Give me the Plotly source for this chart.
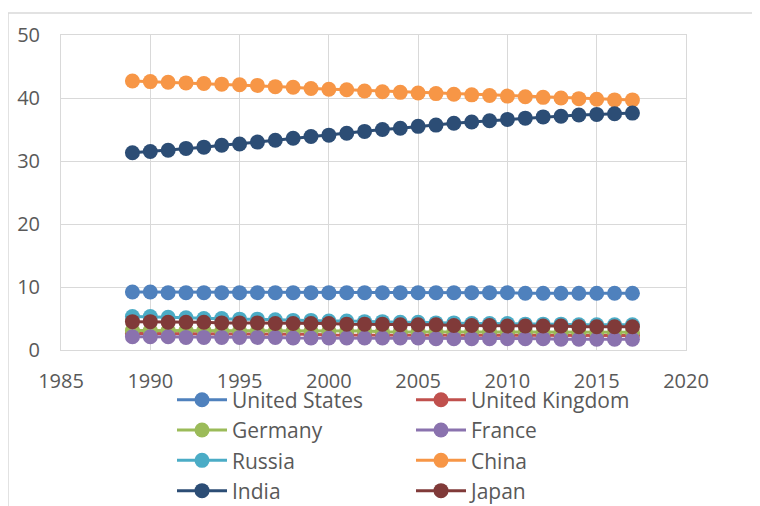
import plotly.graph_objects as go

years = list(range(1989, 2018))

united_states = [9.2, 9.2, 9.1, 9.1, 9.1, 9.1, 9.1, 9.1, 9.1, 9.1, 9.1, 9.1, 9.1, 9.1, 9.1,
                 9.1, 9.1, 9.1, 9.1, 9.1, 9.1, 9.1, 9.0, 9.0, 9.0, 9.0, 9.0, 9.0, 9.0]
united_kingdom = [2.6, 2.6, 2.6, 2.6, 2.5, 2.5, 2.5, 2.5, 2.5, 2.5, 2.5, 2.4, 2.4, 2.4, 2.4,
                  2.4, 2.4, 2.4, 2.4, 2.4, 2.3, 2.3, 2.3, 2.3, 2.3, 2.3, 2.3, 2.3, 2.3]
germany = [3.1, 3.1, 3.1, 3.1, 3.1, 3.0, 3.0, 3.0, 3.0, 3.0, 3.0, 3.0, 3.0, 3.0, 2.9,
           2.9, 2.9, 2.9, 2.9, 2.9, 2.9, 2.9, 2.9, 2.8, 2.8, 2.8, 2.8, 2.8, 2.8]
france = [2.1, 2.1, 2.1, 2.0, 2.0, 2.0, 2.0, 2.0, 2.0, 1.9, 1.9, 1.9, 1.9, 1.9, 1.9,
          1.9, 1.9, 1.8, 1.8, 1.8, 1.8, 1.8, 1.8, 1.8, 1.7, 1.7, 1.7, 1.7, 1.7]
russia = [5.3, 5.3, 5.2, 5.1, 5.0, 5.0, 4.9, 4.9, 4.8, 4.7, 4.7, 4.6, 4.6, 4.5, 4.5,
          4.4, 4.4, 4.3, 4.3, 4.2, 4.2, 4.2, 4.1, 4.1, 4.1, 4.0, 4.0, 4.0, 4.0]
china = [42.7, 42.6, 42.5, 42.4, 42.3, 42.2, 42.1, 42.0, 41.8, 41.7, 41.5, 41.4, 41.3, 41.1, 41.0,
         40.9, 40.8, 40.7, 40.6, 40.5, 40.4, 40.3, 40.2, 40.1, 40.0, 39.9, 39.8, 39.7, 39.7]
india = [31.3, 31.5, 31.7, 32.0, 32.2, 32.5, 32.7, 33.0, 33.3, 33.6, 33.9, 34.1, 34.4, 34.7, 35.0,
         35.2, 35.5, 35.7, 36.0, 36.2, 36.4, 36.6, 36.8, 37.0, 37.1, 37.3, 37.4, 37.5, 37.6]
japan = [4.5, 4.5, 4.4, 4.4, 4.4, 4.3, 4.3, 4.3, 4.2, 4.2, 4.2, 4.2, 4.1, 4.1, 4.1,
         4.0, 4.0, 4.0, 3.9, 3.9, 3.9, 3.8, 3.8, 3.8, 3.8, 3.7, 3.7, 3.7, 3.7]

series = [
    ("United States", united_states, "#4F81BD"),
    ("United Kingdom", united_kingdom, "#C0504D"),
    ("Germany", germany, "#9BBB59"),
    ("France", france, "#8A72AE"),
    ("Russia", russia, "#4BACC6"),
    ("China", china, "#F79646"),
    ("India", india, "#2C4D75"),
    ("Japan", japan, "#803A39"),
]

x_ticks = [1985, 1990, 1995, 2000, 2005, 2010, 2015, 2020]
y_ticks = [0, 10, 20, 30, 40, 50]

fig = go.Figure()
for name, vals, color in series:
    fig.add_trace(go.Scatter(
        x=years, y=vals, name=name, mode="lines+markers",
        line=dict(color=color, width=3),
        marker=dict(color=color, size=15),
    ))

font_family = "Open Sans"
grid = "#D9D9D9"

# page body adds an 8px offset, so the figure is 752x498 and shifted by -8
fig.update_layout(
    width=752, height=498,
    margin=dict(l=53, r=74, t=27, b=156, autoexpand=False),
    paper_bgcolor="white", plot_bgcolor="white",
    font=dict(family=font_family, size=20, color="#595959"),
    showlegend=True,
    legend=dict(
        orientation="h", x=0.1776, xanchor="left", y=-0.094, yanchor="top",
        itemwidth=50, entrywidth=174, entrywidthmode="pixels",
        font=dict(family=font_family, size=21, color="#595959"),
        bgcolor="rgba(0,0,0,0)",
    ),
    xaxis=dict(
        range=[1985, 2020], tickvals=x_ticks, ticktext=[str(v) for v in x_ticks],
        showgrid=True, gridcolor=grid, gridwidth=1,
        showline=True, linecolor=grid, linewidth=1, mirror=True,
        zeroline=False, ticks="", ticklabelstandoff=13,
    ),
    yaxis=dict(
        range=[0, 50], tickvals=y_ticks, ticktext=[str(v) for v in y_ticks],
        showgrid=True, gridcolor=grid, gridwidth=1,
        showline=True, linecolor=grid, linewidth=1, mirror=True,
        zeroline=False, ticks="", ticklabelstandoff=16,
    ),
    shapes=[
        dict(type="line", xref="paper", yref="paper", x0=-0.0848, x1=-0.0848,
             y0=1.0698, y1=-0.5, line=dict(color=grid, width=1.5), layer="below"),
        dict(type="line", xref="paper", yref="paper", x0=-0.0848, x1=1.12,
             y0=1.0698, y1=1.0698, line=dict(color=grid, width=1.5), layer="below"),
    ],
)

fig.write_html("out.html")
